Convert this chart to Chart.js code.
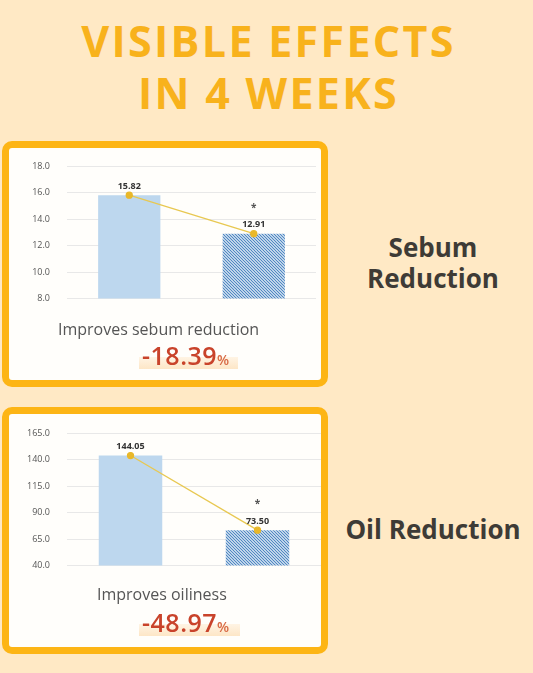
<!DOCTYPE html>
<html lang="en">
<head>
  <meta charset="UTF-8">
  <title>Visible Effects in 4 Weeks</title>
  <script src="https://cdn.jsdelivr.net/npm/chart.js"></script>
  <style>
    html,body{margin:0;padding:0;}
    body{
      width:533px;height:673px;position:relative;overflow:hidden;
      background:#ffe9c5;font-family:"Open Sans",sans-serif;
    }
    .abs{position:absolute;}

    /* ——— heading ——— */
    .title{
      left:2px;width:533px;top:15px;text-align:center;
      color:#f8b21c;font-weight:700;font-size:43px;line-height:52px;
      letter-spacing:2.3px;
    }

    /* ——— orange cards ——— */
    .card{
      left:2px;width:326px;box-sizing:border-box;
      border:7px solid #fdb515;border-radius:10px;background:#fffefb;
    }

    .caption{color:#555;font-size:16px;white-space:nowrap;}
    .pct{color:#c9432b;font-size:25px;font-weight:600;white-space:nowrap;line-height:30px;letter-spacing:0.5px;}
    .pct small{font-size:14px;font-weight:600;color:#d86a45;letter-spacing:0;}
    .hl{background:linear-gradient(#fff4e4,#fde6c6);height:12px;}

    .side{
      color:#3e3b36;font-weight:700;font-size:26px;line-height:31px;
      text-align:center;width:200px;left:333px;
    }
  </style>
</head>
<body>

  <div class="abs title">VISIBLE EFFECTS<br>IN 4 WEEKS</div>

  <!-- ===== SEBUM CARD ===== -->
  <div class="abs card" style="top:141px;height:246px;"></div>
  <canvas id="sebumChart" class="abs" width="312" height="177" style="left:10px;top:144px;"></canvas>
  <div class="abs caption" style="left:58px;top:318px;">Improves sebum reduction</div>
  <div class="abs hl" style="left:139px;top:357px;width:99px;"></div>
  <div class="abs pct" style="left:142px;top:340px;">-18.39<small>%</small></div>

  <div class="abs side" style="top:232px;">Sebum<br>Reduction</div>

  <!-- ===== OIL CARD ===== -->
  <div class="abs card" style="top:407px;height:247px;"></div>
  <canvas id="oilChart" class="abs" width="317" height="177" style="left:10px;top:411px;"></canvas>
  <div class="abs caption" style="left:97px;top:583px;">Improves oiliness</div>
  <div class="abs hl" style="left:139px;top:624px;width:101px;"></div>
  <div class="abs pct" style="left:142px;top:607px;">-48.97<small>%</small></div>

  <div class="abs side" style="top:514px;">Oil Reduction</div>

  <script>
    /* ——— DATA ——— */
    const categories   = ['Before', 'After 4 weeks'];
    const sebumValues  = [15.82, 12.91];
    const oilValues    = [144.05, 73.50];
    const significance = ['', '*'];
    const sebumTicks   = [8.0, 10.0, 12.0, 14.0, 16.0, 18.0];
    const oilTicks     = [40.0, 65.0, 90.0, 115.0, 140.0, 165.0];

    /* ——— fine hatch fill for the "after" bar ——— */
    function hatch(){
      const c=document.createElement('canvas');
      c.width=3;c.height=3;
      const g=c.getContext('2d');
      g.fillStyle='#f4f8fc';g.fillRect(0,0,3,3);
      g.strokeStyle='#4a84c0';g.lineWidth=1.2;
      g.beginPath();
      g.moveTo(-1,-1);g.lineTo(4,4);
      g.moveTo(-1,2);g.lineTo(1,4);
      g.moveTo(2,-1);g.lineTo(4,1);
      g.stroke();
      return g.createPattern(c,'repeat');
    }

    /* value labels + star above the line points */
    const valueLabels={
      id:'valueLabels',
      afterDatasetsDraw(chart){
        const ctx=chart.ctx;
        const meta=chart.getDatasetMeta(1);
        const vals=chart.data.datasets[1].data;
        ctx.save();
        ctx.textAlign='center';ctx.textBaseline='middle';
        meta.data.forEach((pt,i)=>{
          ctx.fillStyle='#333';
          ctx.font='bold 9px "Open Sans"';
          ctx.fillText(vals[i].toFixed(2),pt.x,pt.y-9);
          if(significance[i]){
            ctx.font='bold 10px "Open Sans"';
            ctx.fillStyle='#555';
            ctx.fillText(significance[i],pt.x,pt.y-26);
          }
        });
        ctx.restore();
      }
    };

    // note: the y tick padding (18) also pads the plot area top and bottom,
    // so the canvases are taller than the plot area by about 23px each side
    function build(id,vals,ticks){
      const step=ticks[1]-ticks[0];
      return new Chart(document.getElementById(id),{
        type:'bar',
        data:{
          labels:categories,
          datasets:[
            {type:'bar',data:vals,backgroundColor:['#bdd7ee',hatch()],
             barPercentage:0.5,categoryPercentage:1.0,order:2},
            {type:'line',data:vals,borderColor:'#e8c851',borderWidth:1.3,
             pointRadius:3,pointBackgroundColor:'#e9b82a',pointBorderColor:'#e9b82a',order:1}
          ]
        },
        options:{
          responsive:false,animation:false,
          layout:{padding:{top:0,right:6,bottom:0,left:0}},
          plugins:{legend:{display:false},tooltip:{enabled:false}},
          scales:{
            x:{display:false},
            y:{
              min:ticks[0],max:ticks[ticks.length-1],
              border:{display:false},
              grid:{color:'#e8e8e8',drawTicks:false},
              ticks:{stepSize:step,padding:17,color:'#555',
                     font:{family:'"Open Sans"',size:9},
                     callback:v=>v.toFixed(1)},
              afterFit(s){s.width=57;}
            }
          }
        },
        plugins:[valueLabels]
      });
    }

    build('sebumChart',sebumValues,sebumTicks);
    build('oilChart',oilValues,oilTicks);
  </script>
</body>
</html>
